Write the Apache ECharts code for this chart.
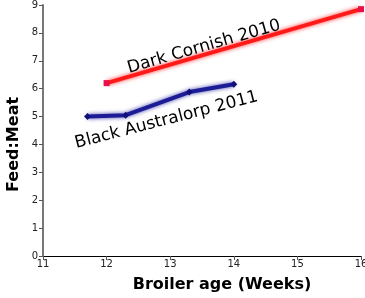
<!DOCTYPE html>
<html><head><meta charset="utf-8">
<script src="https://cdn.jsdelivr.net/npm/echarts@6/dist/echarts.min.js"></script>
<style>html,body{margin:0;padding:0;background:#fff}#c{width:365px;height:298px}</style>
</head><body><div id="c"></div>
<script>
const cornishX = [12, 16];
const cornishY = [6.2, 8.85];
const australorpX = [11.7, 12.3, 13.3, 14.0];
const australorpY = [5.0, 5.05, 5.88, 6.16];
const xTicks = [11, 12, 13, 14, 15, 16];
const yTicks = [0, 1, 2, 3, 4, 5, 6, 7, 8, 9];
const xTitle = 'Broiler age (Weeks)';
const yTitle = 'Feed:Meat';
const labelCornish = {text: 'Dark Cornish 2010', x: 13.53, y: 7.5, rot: 16};
const labelAustralorp = {text: 'Black Australorp 2011', x: 12.94, y: 4.87, rot: 14.5};

const font = 'DejaVu Sans';
const chart = echarts.init(document.getElementById('c'));
chart.setOption({
  animation: false,
  grid: {left: 43, right: 4, top: 5, bottom: 42, containLabel: false, outerBoundsMode: 'none'},
  xAxis: {
    type: 'value', min: xTicks[0], max: xTicks[xTicks.length-1], interval: 1,
    name: xTitle, nameLocation: 'middle', nameGap: 21,
    nameTextStyle: {fontFamily: font, fontSize: 16, fontWeight: 'bold', color: '#000', padding: [0, 0, 0, 40]},
    axisLine: {lineStyle: {color: '#000', width: 1}},
    axisTick: {show: true, length: 4, lineStyle: {color: '#555'}},
    axisLabel: {fontFamily: font, fontSize: 10, color: '#222', margin: 3},
    splitLine: {show: false}
  },
  yAxis: {
    type: 'value', min: yTicks[0], max: yTicks[yTicks.length-1], interval: 1,
    axisLine: {show: true, lineStyle: {color: '#777', width: 2}},
    axisTick: {show: true, length: 4, lineStyle: {color: '#555'}},
    axisLabel: {fontFamily: font, fontSize: 10, color: '#222', margin: 5},
    splitLine: {show: false}
  },
  series: [
    {
      type: 'line', data: cornishX.map((x, i) => [x, cornishY[i]]),
      symbol: 'rect', symbolSize: 6,
      itemStyle: {color: '#e8104a'},
      lineStyle: {color: '#ff1a1a', width: 4, shadowColor: 'rgba(255,0,0,0.8)', shadowBlur: 4},
      z: 3
    },
    {
      type: 'line', data: australorpX.map((x, i) => [x, australorpY[i]]),
      symbol: 'diamond', symbolSize: 7,
      itemStyle: {color: '#10107a'},
      lineStyle: {color: '#1c1c96', width: 4, shadowColor: 'rgba(20,20,150,0.8)', shadowBlur: 4},
      z: 3
    }
  ]
});
function place() {
  const els = [labelCornish, labelAustralorp].map(l => {
    const p = chart.convertToPixel({gridIndex: 0}, [l.x, l.y]);
    return {
      type: 'text', x: p[0], y: p[1], rotation: l.rot * Math.PI / 180,
      style: {text: l.text, fontFamily: font, fontSize: 17, fill: '#000', align: 'center', verticalAlign: 'middle'},
      z: 10
    };
  });
  const a = chart.convertToPixel({gridIndex: 0}, [xTicks[0], 4.0]);
  els.push({
    type: 'text', x: a[0] - 29, y: a[1], rotation: Math.PI / 2,
    style: {text: yTitle, fontFamily: font, fontSize: 16, fontWeight: 'bold', fill: '#000', align: 'center', verticalAlign: 'middle'},
    z: 10
  });
  chart.setOption({graphic: els});
}
place();
</script></body></html>
